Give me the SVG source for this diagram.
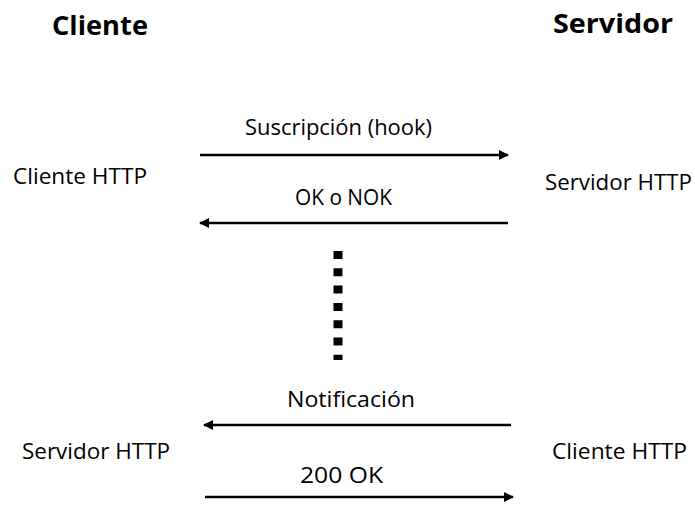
<svg xmlns="http://www.w3.org/2000/svg" width="695" height="505" viewBox="0 0 695 505">
<defs>
<style>
text{font-family:"Open Sans","Liberation Sans",sans-serif;fill:#000}
.h{font-weight:bold;font-size:27.5px}
.t{font-size:22.5px}
.l{font-size:22.5px}
.a{stroke:#000;stroke-width:2.5;fill:none}
</style>
<marker id="ah" viewBox="0 0 10 10" refX="9" refY="5" markerWidth="4" markerHeight="4" orient="auto" markerUnits="strokeWidth">
<path d="M0,0 L10,5 L0,10 z" fill="#000"/>
</marker>
</defs>
<rect width="695" height="505" fill="#fff"/>
<g id="cliente"><text class="h" x="52" y="35" textLength="96" lengthAdjust="spacingAndGlyphs">Cliente</text></g>
<g id="servidor"><text class="h" x="553" y="33" textLength="120" lengthAdjust="spacingAndGlyphs">Servidor</text></g>
<g id="cliente-http-1"><text class="t" x="13" y="184" textLength="134" lengthAdjust="spacingAndGlyphs">Cliente HTTP</text></g>
<g id="servidor-http-1"><text class="t" x="545" y="190" textLength="147" lengthAdjust="spacingAndGlyphs">Servidor HTTP</text></g>
<g id="servidor-http-2"><text class="t" x="22" y="459" textLength="148" lengthAdjust="spacingAndGlyphs">Servidor HTTP</text></g>
<g id="cliente-http-2"><text class="t" x="552" y="459" textLength="135" lengthAdjust="spacingAndGlyphs">Cliente HTTP</text></g>
<g id="connectors">
<line class="a" x1="200" y1="155" x2="508" y2="155" marker-end="url(#ah)"/>
<line class="a" x1="508" y1="223" x2="200" y2="223" marker-end="url(#ah)"/>
<line x1="338" y1="251" x2="338" y2="360" stroke="#000" stroke-width="9" stroke-dasharray="8 9.3"/>
<line class="a" x1="511" y1="425" x2="204" y2="425" marker-end="url(#ah)"/>
<line class="a" x1="205" y1="497" x2="513" y2="497" marker-end="url(#ah)"/>
<text class="l" x="245" y="135" textLength="187" lengthAdjust="spacingAndGlyphs">Suscripción (hook)</text>
<text class="l" x="295" y="205" textLength="97" lengthAdjust="spacingAndGlyphs">OK o NOK</text>
<text class="l" x="287" y="407" textLength="128" lengthAdjust="spacingAndGlyphs">Notificación</text>
<text class="l" x="300" y="483" textLength="83" lengthAdjust="spacingAndGlyphs">200 OK</text>
</g>
</svg>
